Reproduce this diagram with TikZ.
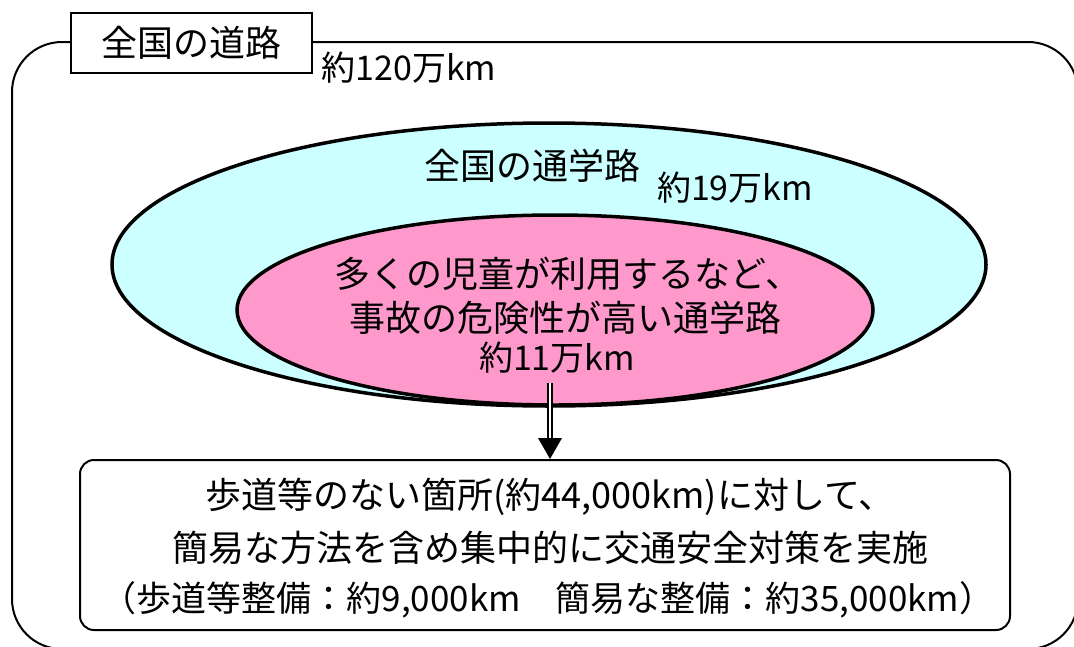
\documentclass[tikz,border=0pt]{standalone}
\usepackage{fontspec}
\newfontfamily\jp{Noto Sans CJK JP}
\usetikzlibrary{shapes.geometric}
\definecolor{cyanfill}{HTML}{CCFFFF}
\definecolor{pinkfill}{HTML}{FF99CC}
\begin{document}
\begin{tikzpicture}[x=1pt,y=-1pt,
  txt/.style={font=\jp\fontsize{36}{40}\selectfont, inner sep=0pt},
  sub/.style={font=\jp\fontsize{34}{40}\selectfont, inner sep=0pt},
  oval/.style={ellipse, draw, line width=3.5pt, inner sep=0pt}]
\useasboundingbox (0,0) rectangle (1074,646);
\begin{scope}
\clip (0,0) rectangle (1074,646);
\draw[line width=2pt, rounded corners=50pt] (12,42) rectangle (1078,649);
\end{scope}
\node[draw, fill=white, line width=1.5pt, minimum width=241, minimum height=60, txt] (title) at (191.5,43) {全国の道路};
\node[sub] (k120) at (409,68) {約120万km};

\node[oval, fill=cyanfill, minimum width=874, minimum height=283] (school) at (549,264.5) {};
\node[oval, fill=pinkfill, minimum width=636, minimum height=190] (danger) at (555,310) {};

\node[txt] (t19) at (532,166) {全国の通学路};
\node[sub] (k19) at (735,188) {約19万km};
\node[txt] (p1) at (568,274) {多くの児童が利用するなど、};
\node[txt] (p2) at (565,318) {事故の危険性が高い通学路};
\node[sub] (p3) at (557,358) {約11万km};

\node[draw, line width=2pt, rounded corners=14pt, minimum width=930, minimum height=170, inner sep=0pt] (box) at (545,545) {};
\node[txt] (b1) at (550,497) {歩道等のない箇所(約44,000km)に対して、};
\node[txt] (b2) at (550,548) {簡易な方法を含め集中的に交通安全対策を実施};
\node[txt, font=\jp\fontsize{35}{40}\selectfont] (b3) at (548,600) {（歩道等整備：約9,000km　簡易な整備：約35,000km）};

\coordinate (as) at (550,383);
\coordinate (ae) at (as |- box.north);
\draw[line width=1.8pt, double, double distance=2.5pt] (as) -- ([yshift=21pt]ae);
\fill (ae) -- ([shift={(-12,-21)}]ae) -- ([shift={(12,-21)}]ae) -- cycle;
\end{tikzpicture}
\end{document}
